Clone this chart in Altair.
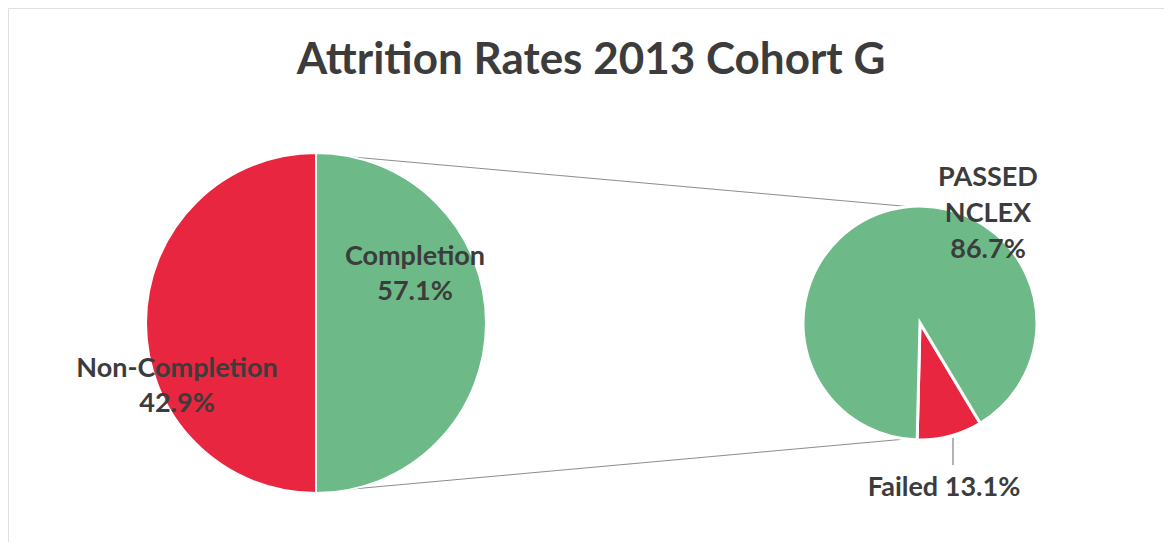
import math
import altair as alt
import pandas as pd

# ---- data ----
title_text = "Attrition Rates 2013 Cohort G"

main_categories = ["Completion", "Non-Completion"]
main_shares = [50, 50]                      # slice sizes as drawn in the picture
main_labels = ["Completion\n57.1%", "Non-Completion\n42.9%"]

sub_categories = ["Failed", "PASSED NCLEX"]
sub_shares = [9, 91]                        # slice sizes as drawn in the picture
sub_labels = ["Failed 13.1%", "PASSED\nNCLEX\n86.7%"]

GREEN = "#6dba88"
RED = "#e8263f"
TEXT = "#3c3c3c"

color_scale = alt.Scale(
    domain=main_categories + sub_categories,
    range=[GREEN, RED, RED, GREEN],
)

W, H = 1156, 534

# layout
LCX, LCY, LR = 308, 315, 170
RCX, RCY, RR = 912, 315, 117
FONT = "Lato"

left_df = pd.DataFrame({"category": main_categories, "share": main_shares, "k": [0, 1]})
right_df = pd.DataFrame({"category": sub_categories, "share": sub_shares, "k": [0, 1]})

left_pie = alt.Chart(left_df).mark_arc(outerRadius=LR, stroke="white", strokeWidth=2).encode(
    theta=alt.Theta("share:Q", stack=True, scale=alt.Scale(range=[0, 2 * math.pi])),
    color=alt.Color("category:N", scale=color_scale, legend=None),
    order=alt.Order("k:Q"),
    x=alt.value(LCX),
    y=alt.value(LCY),
)

start = math.radians(149)
right_pie = alt.Chart(right_df).mark_arc(outerRadius=RR, stroke="white", strokeWidth=3).encode(
    theta=alt.Theta("share:Q", stack=True, scale=alt.Scale(range=[start, start + 2 * math.pi])),
    color=alt.Color("category:N", scale=color_scale, legend=None),
    order=alt.Order("k:Q"),
    x=alt.value(RCX),
    y=alt.value(RCY),
)

# connector lines between the pies
a = math.radians(12.5)
lx = LCX + LR * math.sin(a)
top_y0 = LCY - LR * math.cos(a)
bot_y0 = LCY + LR * math.cos(a)
one = pd.DataFrame({"v": [0]})

def seg(x1, y1, x2, y2, color="#8c8c8c", w=1.0):
    return alt.Chart(one).mark_rule(color=color, strokeWidth=w).encode(
        x=alt.value(x1), y=alt.value(y1), x2=alt.value(x2), y2=alt.value(y2)
    )

conn_top = seg(lx, top_y0, RCX - 7, RCY - RR + 1)
conn_bot = seg(lx, bot_y0, RCX - 3, RCY + RR - 2)
leader = seg(945, 430, 945, 457, color="#666666")

def label(text, x, y, size=27, lh=35):
    return alt.Chart(pd.DataFrame({"t": [text]})).mark_text(
        font=FONT, fontWeight="bold", fontSize=size, color=TEXT,
        lineBreak="\n", lineHeight=lh, align="center", baseline="middle",
    ).encode(text="t:N", x=alt.value(x), y=alt.value(y))

lab_completion = label(main_labels[0], 407, 249)
lab_noncompletion = label(main_labels[1], 169, 361)
lab_passed = label(sub_labels[1], 980, 170, lh=36)
lab_failed = label(sub_labels[0], 936, 480)
title = label(title_text, 583, 53, size=44)

chart = alt.layer(
    conn_top, conn_bot, leader, left_pie, right_pie,
    lab_completion, lab_noncompletion, lab_passed, lab_failed, title,
).resolve_scale(theta="independent").properties(
    width=W, height=H, autosize="none", padding=0, background="white",
).configure_view(stroke="#e0e0e0", strokeWidth=1)

chart.save("out.html", embed_options={"renderer": "svg", "actions": False})
